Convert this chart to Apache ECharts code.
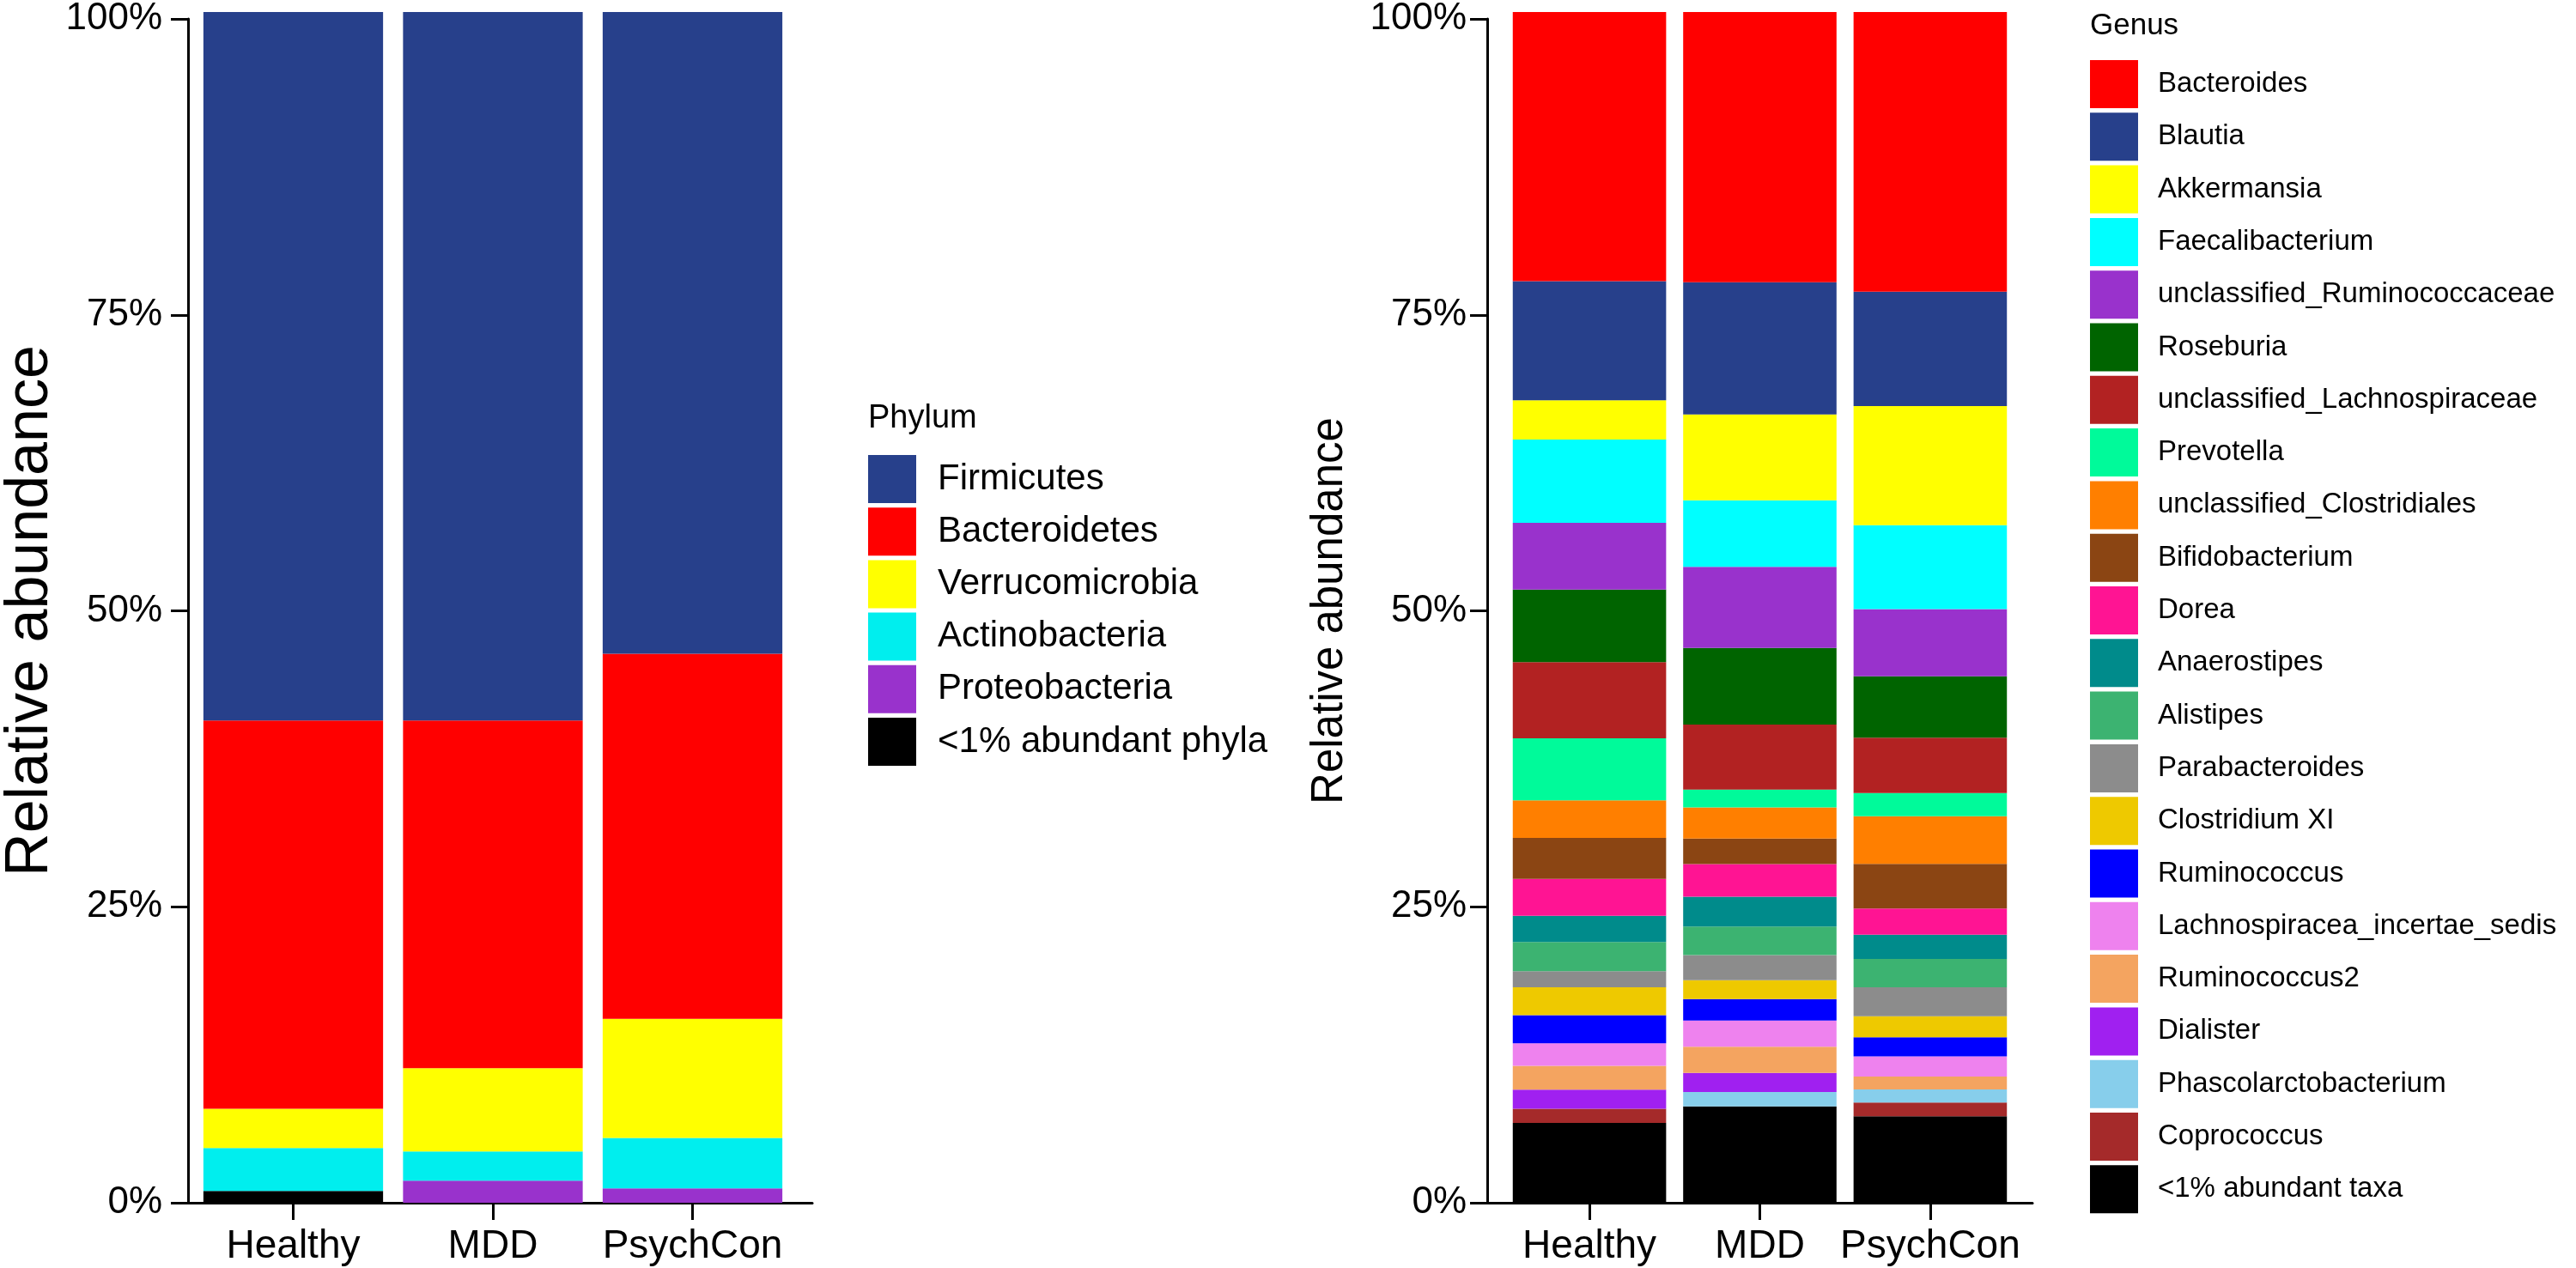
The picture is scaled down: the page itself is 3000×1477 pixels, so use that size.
<!DOCTYPE html>
<html><head><meta charset="utf-8">
<script src="https://cdn.jsdelivr.net/npm/echarts@6/dist/echarts.min.js"></script>
<style>html,body{margin:0;padding:0;background:#fff}#c{width:3000px;height:1477px}</style>
</head><body><div id="c"></div><script>
// ---------- DATA ----------
const categories = ['Healthy', 'MDD', 'PsychCon'];
const yTickValues = [0, 25, 50, 75, 100];

// Phylum (legend order, top of stack first)
const phylumNames = ['Firmicutes', 'Bacteroidetes', 'Verrucomicrobia', 'Actinobacteria', 'Proteobacteria', '<1% abundant phyla'];
const firmicutes      = [59.5, 59.5, 53.9];
const bacteroidetes   = [32.6, 29.2, 30.65];
const verrucomicrobia = [3.3, 7.0, 10.0];
const actinobacteria  = [3.6, 2.45, 4.25];
const proteobacteria  = [0, 1.85, 1.2];
const lowPhyla        = [1.0, 0, 0];
const phylumValues = [firmicutes, bacteroidetes, verrucomicrobia, actinobacteria, proteobacteria, lowPhyla];
const phylumColors = ['#27408B', '#FF0000', '#FFFF00', '#00EEEE', '#9932CC', '#000000'];

// Genus (legend order, top of stack first)
const genusNames = ['Bacteroides', 'Blautia', 'Akkermansia', 'Faecalibacterium', 'unclassified_Ruminococcaceae', 'Roseburia',
  'unclassified_Lachnospiraceae', 'Prevotella', 'unclassified_Clostridiales', 'Bifidobacterium', 'Dorea', 'Anaerostipes',
  'Alistipes', 'Parabacteroides', 'Clostridium XI', 'Ruminococcus', 'Lachnospiracea_incertae_sedis', 'Ruminococcus2',
  'Dialister', 'Phascolarctobacterium', 'Coprococcus', '<1% abundant taxa'];
const bacteroides      = [22.6, 22.7, 23.5];
const blautia          = [10.0, 11.1, 9.6];
const akkermansia      = [3.3, 7.2, 10.0];
const faecalibacterium = [7.0, 5.6, 7.05];
const uRuminococcaceae = [5.6, 6.8, 5.65];
const roseburia        = [6.1, 6.45, 5.15];
const uLachnospiraceae = [6.4, 5.45, 4.65];
const prevotella       = [5.2, 1.5, 1.95];
const uClostridiales   = [3.15, 2.62, 4.0];
const bifidobacterium  = [3.45, 2.14, 3.74];
const dorea            = [3.1, 2.74, 2.2];
const anaerostipes     = [2.2, 2.5, 2.05];
const alistipes        = [2.45, 2.4, 2.37];
const parabacteroides  = [1.35, 2.1, 2.43];
const clostridiumXI    = [2.35, 1.6, 1.78];
const ruminococcus     = [2.35, 1.8, 1.6];
const lachnoIncertae   = [1.9, 2.2, 1.7];
const ruminococcus2    = [2.0, 2.2, 1.08];
const dialister        = [1.6, 1.6, 0];
const phascolarcto     = [0, 1.2, 1.1];
const coprococcus      = [1.2, 0, 1.15];
const lowTaxa          = [6.7, 8.1, 7.26];
const genusValues = [bacteroides, blautia, akkermansia, faecalibacterium, uRuminococcaceae, roseburia, uLachnospiraceae,
  prevotella, uClostridiales, bifidobacterium, dorea, anaerostipes, alistipes, parabacteroides, clostridiumXI,
  ruminococcus, lachnoIncertae, ruminococcus2, dialister, phascolarcto, coprococcus, lowTaxa];
const genusColors = ['#FF0000', '#27408B', '#FFFF00', '#00FFFF', '#9932CC', '#006400', '#B22222', '#00FA9A', '#FF7F00',
  '#8B4513', '#FF1493', '#008B8B', '#3CB371', '#8C8C8C', '#EEC900', '#0000FF', '#EE82EE', '#F4A460', '#A020F0',
  '#87CEEB', '#A52A2A', '#000000'];

// ---------- LAYOUT ----------
const FONT = "'Liberation Sans', Arial, Helvetica, sans-serif";
const TOP = 14, HEIGHT = 1387;
const panelL = { left: 202, width: 744 };
const panelR = { left: 1732, width: 635 };
function dataGrid(p) { const band = p.width / 3.2; return { left: p.left + 0.1 * band, width: 3 * band, top: TOP, height: HEIGHT }; }

const axisCol = '#000';
function frameX(gi) {
  return { gridIndex: gi, type: 'value', min: 0, max: 1, axisLine: { show: true, lineStyle: { color: axisCol, width: 3 } },
    axisTick: { show: false }, axisLabel: { show: false }, splitLine: { show: false } };
}
function dataX(gi) {
  return { gridIndex: gi, type: 'category', data: categories, axisLine: { show: false },
    axisTick: { show: true, alignWithLabel: true, interval: 0, length: 20, lineStyle: { color: axisCol, width: 3 } },
    axisLabel: { color: '#000', fontSize: 46, margin: 28, interval: 0, hideOverlap: false, fontFamily: FONT },
    splitLine: { show: false } };
}
function frameY(gi, labelSize, margin, nameSize, nameGap) {
  return { gridIndex: gi, type: 'value', min: 0, max: 100, interval: 25,
    axisLine: { show: true, lineStyle: { color: axisCol, width: 3 } },
    axisTick: { show: true, length: 20, lineStyle: { color: axisCol, width: 3 } },
    axisLabel: { color: '#000', fontSize: labelSize, margin: margin, fontFamily: FONT, formatter: v => v + '%' },
    splitLine: { show: false },
    name: 'Relative abundance', nameLocation: 'middle', nameGap: nameGap, nameRotate: 90,
    nameTextStyle: { color: '#000', fontSize: nameSize, fontFamily: FONT } };
}
function hiddenY(gi) { return { gridIndex: gi, type: 'value', min: 0, max: 100, show: false }; }

const series = [];
for (let i = phylumNames.length - 1; i >= 0; i--) {
  series.push({ name: phylumNames[i], type: 'bar', stack: 'phylum', xAxisIndex: 1, yAxisIndex: 1,
    barCategoryGap: '10%', itemStyle: { color: phylumColors[i] }, emphasis: { disabled: true },
    data: phylumValues[i] });
}
for (let i = genusNames.length - 1; i >= 0; i--) {
  series.push({ name: genusNames[i], type: 'bar', stack: 'genus', xAxisIndex: 3, yAxisIndex: 3,
    barCategoryGap: '10%', itemStyle: { color: genusColors[i] }, emphasis: { disabled: true },
    data: genusValues[i] });
}

const option = {
  animation: false,
  backgroundColor: '#fff',
  textStyle: { fontFamily: FONT },
  title: [
    { text: 'Phylum', left: 1006, top: 464, textStyle: { fontSize: 38, fontWeight: 'normal', color: '#000', fontFamily: FONT } },
    { text: 'Genus', left: 2429, top: 8, textStyle: { fontSize: 35, fontWeight: 'normal', color: '#000', fontFamily: FONT } }
  ],
  legend: [
    { data: phylumNames, orient: 'vertical', left: 1006, top: 525, itemWidth: 56, itemHeight: 56, itemGap: 5.2,
      icon: 'rect', selectedMode: false,
      textStyle: { fontSize: 42, color: '#000', fontFamily: FONT, padding: [0, 0, 0, 20] } },
    { data: genusNames, orient: 'vertical', left: 2429, top: 65, itemWidth: 56, itemHeight: 56, itemGap: 5.3,
      icon: 'rect', selectedMode: false,
      textStyle: { fontSize: 33, color: '#000', fontFamily: FONT, padding: [0, 0, 0, 18] } }
  ],
  grid: [
    { left: panelL.left, width: panelL.width, top: TOP, height: HEIGHT },
    dataGrid(panelL),
    { left: panelR.left, width: panelR.width, top: TOP, height: HEIGHT },
    dataGrid(panelR)
  ],
  xAxis: [frameX(0), dataX(1), frameX(2), dataX(3)],
  yAxis: [frameY(0, 44, 30, 70, 148), hiddenY(1), frameY(2, 44, 24, 51, 158), hiddenY(3)],
  series: series
};
const chart = echarts.init(document.getElementById('c'));
chart.setOption(option);
</script></body></html>
